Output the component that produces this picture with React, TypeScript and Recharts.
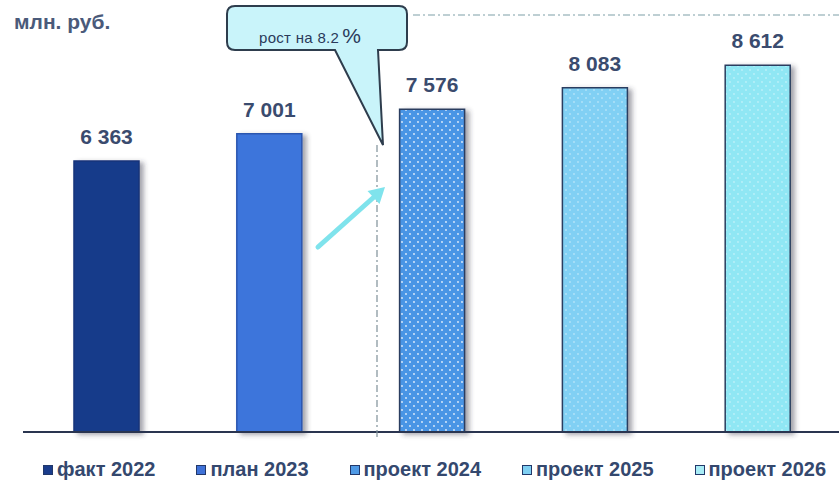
import React from "react";
import { BarChart, Bar, XAxis, YAxis, Legend, LabelList, ReferenceLine } from "recharts";

const categories = ["факт 2022", "план 2023", "проект 2024", "проект 2025", "проект 2026"];
const seriesKeys = ["f2022", "p2023", "p2024", "p2025", "p2026"];
const values = [6363, 7001, 7576, 8083, 8612];
const growthLabel = "рост на 8.2";

const barFills = ["#173a8a", "#3e74db", "url(#dots24)", "url(#dots25)", "url(#dots26)"];
const barStrokes = ["#14337a", "#2b56b0", "#2c3e60", "#2c3e60", "#2c3e60"];
const legendFills = ["#1a3c8c", "#3f72d8", "#4f9ae6", "#7fcff2", "#a8ecf6"];

const data = values.map((v, i) => ({ name: categories[i], [seriesKeys[i]]: v }));

const fmt = (v: number) => String(v).replace(/\B(?=(\d{3})+(?!\d))/g, " ");

const textColor = "#3a4b6e";

const renderLabel = (props: any) => {
  const { x, y, width, value } = props;
  if (typeof value !== "number") return null;
  return (
    <text
      x={x + width / 2}
      y={y - 17}
      textAnchor="middle"
      fill={textColor}
      fontSize={21}
      fontWeight="bold"
      fontFamily="'Liberation Sans', Arial, sans-serif"
    >
      {fmt(value)}
    </text>
  );
};

const renderLegend = () => (
  <div
    style={{
      display: "flex",
      alignItems: "center",
      paddingLeft: 43,
      fontFamily: "'Liberation Sans', Arial, sans-serif",
      fontWeight: "bold",
      fontSize: 20,
      color: "#34486e",
      whiteSpace: "nowrap",
    }}
  >
    {categories.map((c, i) => (
      <div key={c} style={{ display: "flex", alignItems: "center", marginRight: 41, flexShrink: 0 }}>
        <span
          style={{
            width: 8,
            height: 8,
            background: legendFills[i],
            border: "1.5px solid #22386a",
            marginRight: 4,
            display: "inline-block",
          }}
        />
        <span>{c}</span>
      </div>
    ))}
  </div>
);

const Pattern = ({ id, bg, dot, op }: { id: string; bg: string; dot: string; op: number }) => (
  <pattern id={id} width={8} height={8} patternUnits="userSpaceOnUse">
    <rect width={8} height={8} fill={bg} />
    <circle cx={2} cy={2} r={0.9} fill={dot} opacity={op} />
    <circle cx={6} cy={6} r={0.9} fill={dot} opacity={op} />
  </pattern>
);

export default function App() {
  return (
    <div style={{ position: "absolute", left: 0, top: 0, width: 839, height: 483, background: "#fff" }}>
      <BarChart
        width={839}
        height={483}
        data={data}
        margin={{ top: 6, right: 0, left: 25, bottom: 51 }}
        barSize={65}
      >
        <defs>
          <Pattern id="dots24" bg="#4a95e5" dot="#ffffff" op={0.85} />
          <Pattern id="dots25" bg="#81d0f4" dot="#ffffff" op={0.4} />
          <Pattern id="dots26" bg="#90e7f4" dot="#ffffff" op={0.4} />
          <filter id="shadow" x="-20%" y="-10%" width="150%" height="130%">
            <feDropShadow dx={4} dy={2} stdDeviation={2.5} floodColor="#334" floodOpacity={0.45} />
          </filter>
        </defs>
        <XAxis dataKey="name" hide />
        <YAxis hide domain={[0, 10000]} />
        <Legend
          layout="horizontal"
          verticalAlign="middle"
          content={renderLegend}
          wrapperStyle={{ top: 458, left: 0, width: 839 }}
        />
        {seriesKeys.map((k, i) => (
          <Bar
            key={k}
            dataKey={k}
            name={categories[i]}
            stackId="a"
            fill={barFills[i]}
            stroke={barStrokes[i]}
            strokeWidth={1.5}
            filter="url(#shadow)"
            isAnimationActive={false}
          >
            <LabelList dataKey={k} content={renderLabel} />
          </Bar>
        ))}
        <ReferenceLine y={0} stroke="#2a3550" strokeWidth={2} />
      </BarChart>
      <svg
        width={839}
        height={483}
        style={{ position: "absolute", left: 0, top: 0, pointerEvents: "none" }}
      >
        <line x1={23} y1={432} x2={26} y2={432} stroke="#2a3550" strokeWidth={2} />
        <text
          x={14}
          y={29}
          fontSize={21}
          fontWeight="bold"
          fill="#4a5a7a"
          fontFamily="'Liberation Sans', Arial, sans-serif"
        >
          млн. руб.
        </text>
        <line x1={413} y1={15} x2={839} y2={15} stroke="#7fa0a8" strokeWidth={1.2} strokeDasharray="7 3 2 3" />
        <line x1={377} y1={145} x2={377} y2={438} stroke="#7f9098" strokeWidth={1.2} strokeDasharray="7 3 2 3" />
        <path
          d="M 235 6 H 399 Q 407 6 407 14 V 42 Q 407 50 399 50 H 378 L 383 145 L 335 50 H 235 Q 227 50 227 42 V 14 Q 227 6 235 6 Z"
          fill="#c9f4fa"
          stroke="#2e3d4d"
          strokeWidth={2}
        />
        <text x={259} y={43} fill="#2a3a5a" fontFamily="'Liberation Sans', Arial, sans-serif" fontSize={15} letterSpacing={0.3}>
          {growthLabel}
          <tspan fontSize={21} dx={3}>%</tspan>
        </text>
        <line x1={318} y1={247} x2={374} y2={197} stroke="#7fe3ec" strokeWidth={5} strokeLinecap="round" />
        <polygon points="385,187 379.5,204 367.5,191" fill="#7fe3ec" />
      </svg>
    </div>
  );
}
